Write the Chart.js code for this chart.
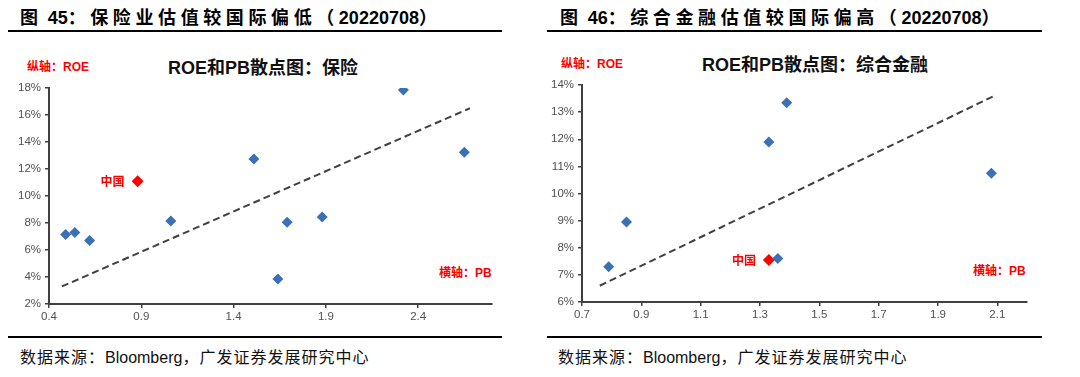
<!DOCTYPE html>
<html>
<head>
<meta charset="utf-8">
<script src="https://cdn.jsdelivr.net/npm/chart.js@4"></script>
<style>
  body { margin: 0; width: 1080px; height: 377px; background: #fff; position: relative; overflow: hidden; font-family: "Liberation Sans", "Noto Sans CJK SC", sans-serif; }
  .abs { position: absolute; white-space: nowrap; }
  .head { font-size: 18px; font-weight: bold; color: #000; top: 3px; }
  .head .cj { font-family: "Noto Sans CJK SC"; letter-spacing: 4.6px; }
  .head .num { font-family: "Liberation Sans Narrow", "Liberation Sans"; }
  .rule { position: absolute; height: 2px; background: #000; }
  .src { font-size: 16px; color: #111; top: 344px; }
  .src .cj { font-family: "Noto Sans CJK SC"; letter-spacing: 1px; }
  .ctitle { font-size: 18px; font-weight: bold; color: #111; transform: translate(-50%, -50%); }
  .ctitle .cj { font-family: "Noto Sans CJK SC"; }
  .axname { font-size: 12px; font-weight: bold; color: #ff0000; transform: translateY(-50%); }
  .axname .cj { font-family: "Noto Sans CJK SC"; }
  canvas { position: absolute; }
</style>
</head>
<body>
<div class="abs head" style="left:20px"><span class="cj">图</span> <span class="num">45</span><span class="cj">：保险业估值较国际偏低（</span><span class="num">20220708</span><span class="cj">）</span></div>
<div class="abs head" style="left:560px"><span class="cj">图</span> <span class="num">46</span><span class="cj">：综合金融估值较国际偏高（</span><span class="num">20220708</span><span class="cj">）</span></div>
<div class="rule" style="left:8px;width:494px;top:30px"></div>
<div class="rule" style="left:547px;width:495px;top:30px"></div>
<div class="rule" style="left:8px;width:494px;top:336px"></div>
<div class="rule" style="left:547px;width:495px;top:336px"></div>
<div class="abs src" style="left:20px"><span class="cj">数据来源：</span>Bloomberg<span class="cj">，广发证券发展研究中心</span></div>
<div class="abs src" style="left:558px"><span class="cj">数据来源：</span>Bloomberg<span class="cj">，广发证券发展研究中心</span></div>

<div class="abs ctitle" style="left:263px;top:66px">ROE<span class="cj">和</span>PB<span class="cj">散点图：保险</span></div>
<div class="abs ctitle" style="left:815px;top:63px">ROE<span class="cj">和</span>PB<span class="cj">散点图：综合金融</span></div>
<div class="abs axname" style="left:27px;top:65px"><span class="cj">纵轴：</span>ROE</div>
<div class="abs axname" style="left:561px;top:62px"><span class="cj">纵轴：</span>ROE</div>
<div class="abs axname" style="left:439px;top:271px"><span class="cj">横轴：</span>PB</div>
<div class="abs axname" style="left:973px;top:269px"><span class="cj">横轴：</span>PB</div>

<canvas id="chartIns" width="540" height="290" style="left:0;top:40px"></canvas>
<canvas id="chartFin" width="540" height="290" style="left:540px;top:40px"></canvas>

<script>
// 保险：PB (x) / ROE % (y)
const insPB  = [0.49, 0.54, 0.62, 1.06, 1.51, 1.64, 1.69, 1.88, 2.32, 2.65];
const insROE = [7.15, 7.3, 6.7, 8.15, 12.75, 3.85, 8.05, 8.45, 17.85, 13.25];
const insChina = { pb: 0.88, roe: 11.1 };
const insTrendPB  = [0.47, 2.68];
const insTrendROE = [3.3, 16.5];
const insXTicks = [0.4, 0.9, 1.4, 1.9, 2.4];
const insYTicks = [2, 4, 6, 8, 10, 12, 14, 16, 18];

// 综合金融
const finPB  = [0.79, 0.85, 1.33, 1.36, 1.39, 2.08];
const finROE = [7.3, 8.95, 11.9, 7.6, 13.35, 10.75];
const finChina = { pb: 1.33, roe: 7.55 };
const finTrendPB  = [0.76, 2.09];
const finTrendROE = [6.6, 13.6];
const finXTicks = [0.7, 0.9, 1.1, 1.3, 1.5, 1.7, 1.9, 2.1];
const finYTicks = [6, 7, 8, 9, 10, 11, 12, 13, 14];

const toPoints = (xs, ys) => xs.map((x, i) => ({ x: x, y: ys[i] }));

// draws the red "中国" label next to the China point
const chinaLabel = {
  id: 'chinaLabel',
  afterDatasetsDraw(chart, args, opts) {
    const { ctx, scales } = chart;
    const px = scales.x.getPixelForValue(opts.pb);
    const py = scales.y.getPixelForValue(opts.roe);
    ctx.save();
    ctx.font = 'bold 12px "Noto Sans CJK SC"';
    ctx.fillStyle = '#ff0000';
    ctx.textAlign = 'right';
    ctx.textBaseline = 'middle';
    ctx.fillText('中国', px - 13, py);
    ctx.restore();
  }
};

function makeChart(id, cfg) {
  return new Chart(document.getElementById(id), {
    type: 'scatter',
    data: {
      datasets: [
        {
          data: toPoints(cfg.pb, cfg.roe),
          pointStyle: 'rectRot',
          pointRadius: 5.5,
          backgroundColor: '#3c70b4',
          borderColor: '#3c70b4',
          borderWidth: 0
        },
        {
          data: [{ x: cfg.china.pb, y: cfg.china.roe }],
          pointStyle: 'rectRot',
          pointRadius: 6,
          backgroundColor: '#ff0000',
          borderColor: '#ff0000',
          borderWidth: 0
        },
        {
          data: toPoints(cfg.trendPB, cfg.trendROE),
          showLine: true,
          pointRadius: 0,
          borderColor: '#404040',
          borderWidth: 2,
          borderDash: [7, 4]
        }
      ]
    },
    options: {
      responsive: false,
      animation: false,
      devicePixelRatio: 1,
      layout: { autoPadding: false, padding: cfg.padding },
      plugins: {
        legend: { display: false },
        tooltip: { enabled: false },
        chinaLabel: cfg.china
      },
      scales: {
        x: {
          type: 'linear',
          min: cfg.xMin,
          max: cfg.xMax,
          afterBuildTicks: s => { s.ticks = cfg.xTicks.map(v => ({ value: v })); },
          afterFit: s => { s.height = 20; },
          grid: { drawOnChartArea: false, drawTicks: true, tickLength: 4, color: '#404040', lineWidth: 1.5 },
          border: { display: true, color: '#404040', width: 2 },
          ticks: {
            padding: 2,
            color: '#505050',
            font: { family: 'Liberation Sans', size: 11.5 },
            callback: v => String(Math.round(v * 10) / 10)
          }
        },
        y: {
          min: cfg.yTicks[0],
          max: cfg.yTicks[cfg.yTicks.length - 1],
          afterBuildTicks: s => { s.ticks = cfg.yTicks.map(v => ({ value: v })); },
          afterFit: s => { s.width = cfg.yWidth; },
          grid: { drawOnChartArea: false, drawTicks: true, tickLength: 4, color: '#404040', lineWidth: 1.5 },
          border: { display: true, color: '#404040', width: 2 },
          ticks: {
            padding: 4,
            color: '#505050',
            font: { family: 'Liberation Sans', size: 11.5 },
            callback: v => v + '%'
          }
        }
      }
    },
    plugins: [chinaLabel]
  });
}

makeChart('chartIns', {
  pb: insPB, roe: insROE, china: insChina,
  trendPB: insTrendPB, trendROE: insTrendROE,
  xMin: 0.4, xMax: 2.8, xTicks: insXTicks, yTicks: insYTicks,
  yWidth: 40,
  padding: { left: 9, right: 48, top: 48, bottom: 6 }
});

makeChart('chartFin', {
  pb: finPB, roe: finROE, china: finChina,
  trendPB: finTrendPB, trendROE: finTrendROE,
  xMin: 0.7, xMax: 2.2, xTicks: finXTicks, yTicks: finYTicks,
  yWidth: 36,
  padding: { left: 6, right: 53, top: 45, bottom: 8 }
});
</script>
</body>
</html>
